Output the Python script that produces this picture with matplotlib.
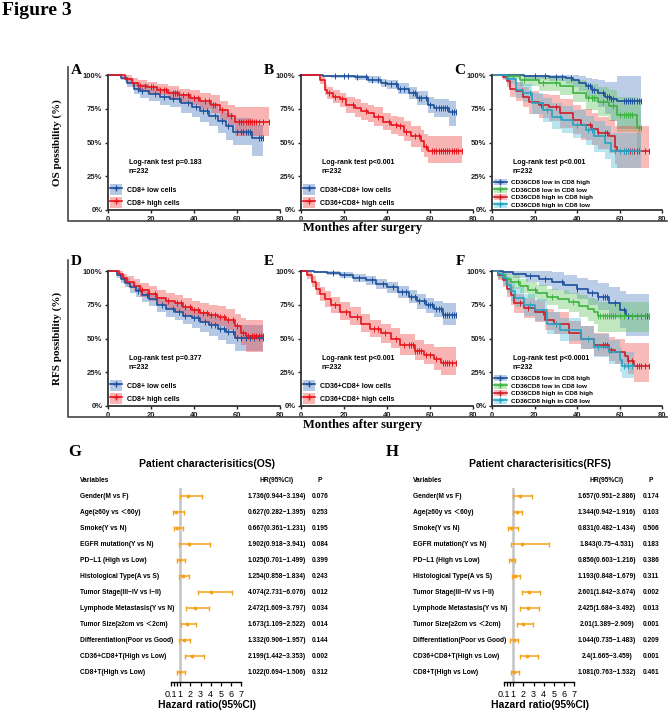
import numpy as np
import matplotlib
matplotlib.use('Agg')
import matplotlib.pyplot as plt
from matplotlib.patches import Patch
from matplotlib.lines import Line2D

plt.rcParams['font.family'] = ['Liberation Sans', 'Noto Sans CJK SC', 'DejaVu Sans']

# ---------------- KM data ----------------
# A: OS, CD8+
A_low_t = [0, 6, 9, 12, 15, 19, 24, 29, 34, 39, 43, 47, 51, 55, 58, 67, 72]
A_low_s = [1.00, .98, .94, .90, .88, .86, .84, .82, .79, .76, .73, .70, .66, .62, .58, .53, .53]
A_low_lo = [1.00, .96, .91, .86, .83, .81, .78, .76, .72, .69, .65, .62, .57, .52, .48, .40, .40]
A_low_hi = [1.00, 1.00, .98, .95, .93, .91, .90, .88, .86, .84, .81, .79, .75, .72, .68, .63, .63]
A_low_c = [14, 16, 22, 26, 30, 33, 37, 41, 44, 46, 50, 53, 56, 60, 62, 63, 64, 65, 66, 70, 71, 72]
A_high_t = [0, 8, 11, 14, 18, 23, 28, 33, 38, 43, 48, 52, 56, 59, 75]
A_high_s = [1.00, .97, .94, .92, .91, .89, .87, .85, .83, .81, .78, .74, .70, .65, .65]
A_high_lo = [1.00, .95, .91, .88, .87, .85, .82, .80, .78, .75, .72, .67, .63, .55, .55]
A_high_hi = [1.00, 1.00, .98, .96, .95, .93, .92, .90, .89, .87, .85, .81, .78, .76, .76]
A_high_c = [15, 17, 20, 21, 24, 26, 27, 30, 31, 32, 35, 37, 40, 42, 45, 47, 49, 50, 53, 57,
            61, 62, 63, 64, 65, 66, 67, 68, 69, 70, 72, 75]

# B: OS, CD36+CD8+
B_low_t = [0, 10, 14, 25, 31, 37, 40, 45, 50, 54, 59, 62, 69, 72]
B_low_s = [1.00, .995, .99, .985, .965, .94, .93, .90, .87, .83, .78, .755, .725, .725]
B_low_lo = [1.00, .985, .975, .965, .94, .91, .895, .86, .82, .78, .72, .69, .62, .62]
B_low_hi = [1.00, 1.00, 1.00, 1.00, .99, .97, .965, .94, .91, .88, .84, .82, .81, .81]
B_low_c = [16, 20, 22, 26, 30, 33, 36, 39, 42, 44, 46, 48, 52, 53, 55, 56, 58, 60, 63, 64,
           65, 66, 67, 68, 70, 71, 72]
B_high_t = [0, 9, 11, 12, 15, 18, 21, 25, 28, 31, 34, 38, 42, 45, 48, 51, 56, 57, 59, 75]
B_high_s = [1.00, .96, .89, .87, .84, .82, .78, .755, .73, .72, .69, .655, .63, .62, .58, .545,
            .51, .47, .435, .435]
B_high_lo = [1.00, .93, .85, .82, .79, .76, .72, .69, .67, .65, .62, .59, .56, .55, .51, .47,
             .43, .39, .35, .35]
B_high_hi = [1.00, .99, .93, .91, .89, .87, .84, .82, .79, .78, .76, .72, .70, .69, .66, .62,
             .59, .56, .55, .55]
B_high_c = [13, 16, 19, 24, 30, 36, 41, 44, 46, 49, 53, 55, 58, 61, 62, 63, 64, 65, 66, 67,
            68, 69, 70, 71, 72, 73, 75]

# C: OS, four groups
C1_t = [0, 15, 27, 35, 38, 41, 44, 47, 50, 53, 56, 59, 70]
C1_s = [1.00, .99, .985, .975, .96, .94, .915, .89, .865, .84, .82, .81, .81]
C1_lo = [1.00, .97, .955, .935, .91, .88, .84, .80, .76, .71, .66, .60, .60]
C1_hi = [1.00, 1.00, 1.00, 1.00, 1.00, .995, .98, .97, .96, .95, .95, .99, .99]
C1_c = [20, 25, 30, 33, 37, 45, 46, 47, 48, 52, 54, 55, 56, 57, 62, 63, 64, 65, 66, 67, 68, 69, 70]
C2_t = [0, 5, 13, 22, 32, 38, 44, 50, 55, 59, 68, 70]
C2_s = [1.00, .99, .965, .94, .915, .87, .83, .80, .77, .705, .61, .61]
C2_lo = [1.00, .97, .92, .88, .85, .80, .74, .70, .66, .58, .45, .45]
C2_hi = [1.00, 1.00, 1.00, .99, .98, .96, .93, .91, .89, .84, .80, .80]
C2_c = [10, 15, 24, 30, 45, 47, 48, 52, 57, 60, 62, 63, 64, 65, 66, 69, 70]
C3_t = [0, 5, 7, 8.5, 11.5, 14.5, 17.5, 22, 27, 32, 38, 42, 47, 50, 55, 58, 59, 74]
C3_s = [1.00, .985, .955, .90, .88, .84, .80, .78, .76, .72, .67, .63, .60, .57, .545, .47, .435, .435]
C3_lo = [1.00, .96, .91, .84, .81, .76, .71, .68, .66, .61, .56, .52, .48, .45, .42, .34, .31, .31]
C3_hi = [1.00, 1.00, .995, .96, .95, .91, .88, .86, .85, .82, .78, .75, .72, .69, .67, .62, .62, .62]
C3_c = [14, 23, 24, 30, 46, 47, 50, 53, 54, 62, 63, 64, 65, 66, 67, 68, 69, 72, 74]
C4_t = [0, 7, 11.5, 14.5, 19, 24, 28, 33, 38, 44, 48, 53, 56, 70]
C4_s = [1.00, .97, .89, .87, .79, .74, .69, .67, .63, .59, .545, .495, .435, .435]
C4_lo = [1.00, .93, .83, .80, .71, .65, .60, .57, .53, .48, .43, .38, .31, .31]
C4_hi = [1.00, 1.00, .95, .93, .87, .83, .79, .77, .74, .70, .66, .62, .57, .57]
C4_c = [18, 26, 32, 40, 45, 47, 58, 60, 62, 63, 64, 66]

# D: RFS, CD8+
D_low_t = [0, 4, 6, 8, 10, 13, 16, 19, 23, 27, 31, 35, 39, 43, 47, 51, 55, 59, 72]
D_low_s = [1.00, .97, .94, .91, .88, .85, .82, .79, .75, .72, .70, .67, .65, .62, .60, .57, .55, .505, .505]
D_low_lo = [1.00, .95, .91, .88, .84, .81, .77, .74, .70, .66, .64, .61, .58, .55, .52, .49, .46, .41, .41]
D_low_hi = [1.00, 1.00, .97, .95, .92, .90, .87, .84, .81, .78, .76, .74, .72, .70, .68, .65, .63, .60, .60]
D_low_c = [14, 18, 25, 30, 33, 36, 40, 42, 45, 48, 50, 52, 54, 56, 58, 60, 62, 64, 66, 68, 70, 72]
D_high_t = [0, 5, 7, 9, 12, 15, 19, 23, 27, 31, 35, 39, 43, 47, 51, 55, 59, 62, 64, 72]
D_high_s = [1.00, .98, .95, .92, .89, .86, .83, .80, .78, .76, .73, .71, .69, .675, .66, .64, .59,
            .54, .515, .515]
D_high_lo = [1.00, .96, .92, .88, .85, .81, .78, .75, .72, .70, .67, .65, .62, .60, .59, .56, .50,
             .45, .40, .40]
D_high_hi = [1.00, 1.00, .98, .96, .94, .91, .89, .86, .84, .82, .80, .78, .76, .75, .74, .72, .68,
             .65, .64, .64]
D_high_c = [16, 19, 22, 28, 32, 34, 36, 38, 40, 42, 44, 46, 48, 50, 52, 54, 56, 58, 60, 63, 65,
            67, 68, 69, 70, 71, 72]

# E: RFS, CD36+CD8+
E_low_t = [0, 6, 12, 18, 24, 30, 35, 40, 45, 50, 54, 58, 62, 66, 72]
E_low_s = [1.00, .995, .985, .97, .95, .93, .905, .88, .845, .81, .775, .745, .72, .675, .675]
E_low_lo = [1.00, .985, .97, .95, .92, .90, .87, .84, .80, .76, .72, .69, .66, .60, .60]
E_low_hi = [1.00, 1.00, 1.00, .99, .98, .96, .94, .92, .89, .86, .83, .80, .78, .76, .76]
E_low_c = [15, 20, 27, 33, 38, 43, 47, 49, 51, 53, 55, 57, 59, 60, 61, 63, 64, 65, 66, 67, 68,
           69, 70, 71, 72]
E_high_t = [0, 3, 5, 7, 9, 11, 14, 18, 23, 28, 32, 37, 42, 46, 53, 57, 62, 65, 72]
E_high_s = [1.00, .97, .92, .87, .83, .79, .75, .70, .66, .61, .57, .54, .50, .45, .41, .38, .345,
            .315, .315]
E_high_lo = [1.00, .94, .88, .82, .78, .73, .69, .64, .60, .55, .51, .47, .43, .38, .34, .31, .27,
             .23, .23]
E_high_hi = [1.00, 1.00, .96, .92, .88, .85, .81, .77, .73, .68, .64, .61, .58, .53, .49, .46, .44,
             .44, .44]
E_high_c = [16, 21, 26, 34, 36, 39, 44, 48, 50, 51, 52, 53, 54, 55, 56, 58, 60, 63, 66, 67, 68,
            69, 70, 72]

# F: RFS, four groups
F1_t = [0, 5, 10, 16, 22, 28, 34, 40, 45, 50, 55, 60, 63, 74]
F1_s = [1.00, .99, .98, .96, .94, .92, .90, .87, .84, .81, .76, .71, .665, .665]
F1_lo = [1.00, .97, .95, .92, .89, .86, .83, .79, .75, .71, .65, .58, .52, .52]
F1_hi = [1.00, 1.00, 1.00, 1.00, 1.00, .99, .97, .95, .93, .91, .88, .85, .83, .83]
F1_c = [18, 25, 33, 40, 47, 50, 52, 53, 54, 58, 62, 64, 66, 68, 70, 72, 73, 74]
F2_t = [0, 3, 6, 9, 13, 17, 21, 26, 31, 36, 41, 45, 48, 50, 74]
F2_s = [1.00, .97, .94, .92, .89, .86, .84, .81, .79, .77, .74, .72, .70, .665, .665]
F2_lo = [1.00, .94, .90, .87, .84, .80, .78, .75, .72, .70, .66, .63, .61, .55, .55]
F2_hi = [1.00, 1.00, .98, .97, .94, .92, .90, .87, .86, .84, .82, .80, .79, .77, .77]
F2_c = [12, 20, 28, 38, 50, 51, 52, 53, 54, 55, 56, 57, 58, 60, 62, 66, 68, 70, 72, 74]
F3_t = [0, 3, 5, 7, 9, 10.5, 15, 20, 25, 29, 36, 42, 48, 55, 58, 62.5, 64, 67, 74]
F3_s = [1.00, .97, .93, .87, .82, .76, .725, .70, .64, .61, .54, .50, .45, .415, .40, .37, .33, .30, .30]
F3_lo = [1.00, .93, .88, .81, .75, .69, .65, .62, .56, .53, .46, .42, .37, .33, .31, .28, .24, .18, .18]
F3_hi = [1.00, 1.00, .98, .93, .89, .83, .80, .78, .72, .70, .63, .59, .54, .51, .50, .47, .47, .47, .47]
F3_c = [13, 17, 24, 30, 52, 53, 54, 55, 56, 64, 66, 68, 69, 70, 72, 74]
F4_t = [0, 3, 5, 7, 9, 11, 15, 20, 26, 32, 42, 48, 55, 60, 61, 67]
F4_s = [1.00, .98, .95, .90, .85, .80, .75, .71, .61, .56, .50, .44, .40, .34, .30, .30]
F4_lo = [1.00, .95, .90, .84, .78, .73, .67, .63, .53, .48, .42, .36, .31, .25, .21, .21]
F4_hi = [1.00, 1.00, 1.00, .96, .92, .88, .83, .79, .70, .65, .59, .53, .49, .44, .40, .40]
F4_c = [18, 30, 45, 50, 62, 64, 66]

labels_cd8 = ['CD8+ low cells', 'CD8+ high cells']
labels_cd36 = ['CD36+CD8+ low cells', 'CD36+CD8+ high cells']
labels_grp = ['CD36CD8 low in CD8 high', 'CD36CD8 low in CD8 low',
              'CD36CD8 high in CD8 high', 'CD36CD8 high in CD8 low']

# ---------------- Forest data ----------------
variables = ['Gender(M vs F)', 'Age(≥60y vs ＜60y)', 'Smoke(Y vs N)', 'EGFR mutation(Y vs N)',
             'PD−L1 (High vs Low)', 'Histological Type(A vs S)', 'Tumor Stage(III−IV vs I−II)',
             'Lymphode Metastasis(Y vs N)', 'Tumor Size(≥2cm vs ＜2cm)',
             'Differentiation(Poor vs Good)', 'CD36+CD8+T(High vs Low)', 'CD8+T(High vs Low)']
G_hr = [1.736, 0.627, 0.667, 1.902, 1.025, 1.254, 4.074, 2.472, 1.673, 1.332, 2.199, 1.022]
G_lo = [0.944, 0.282, 0.361, 0.918, 0.701, 0.858, 2.731, 1.609, 1.109, 0.906, 1.442, 0.694]
G_hi = [3.194, 1.395, 1.231, 3.941, 1.499, 1.834, 6.076, 3.797, 2.522, 1.957, 3.353, 1.506]
G_p = ['0.076', '0.253', '0.195', '0.084', '0.399', '0.243', '0.012', '0.034', '0.014', '0.144',
       '0.002', '0.312']
H_hr = [1.657, 1.344, 0.831, 1.843, 0.856, 1.193, 2.601, 2.425, 2.01, 1.044, 2.4, 1.081]
H_lo = [0.951, 0.942, 0.482, 0.75, 0.603, 0.848, 1.842, 1.684, 1.389, 0.735, 1.665, 0.763]
H_hi = [2.886, 1.916, 1.434, 4.531, 1.216, 1.679, 3.674, 3.492, 2.909, 1.483, 3.459, 1.532]
H_p = ['0.174', '0.103', '0.506', '0.183', '0.386', '0.311', '0.002', '0.013', '0.001', '0.209',
       '0.001', '0.461']

W, H = 669, 712
fig = plt.figure(figsize=(W / 100, H / 100), dpi=100)

def fx(px):
    return px / W

def fy(py):
    return 1 - py / H

def ax_at(x0, y0, x1, y1):
    return fig.add_axes([fx(x0), fy(y1), (x1 - x0) / W, (y1 - y0) / H])

SERIF = 'Liberation Serif'
BLUE, RED = '#1d4f9a', '#e8141c'
BLUE_B, RED_B = '#4f7fc0', '#f04a4a'
GREEN, DRED, CYAN = '#3cb43f', '#cc1f2a', '#27a3c2'
GREEN_B, CYAN_B = '#5cc25a', '#45bcd8'


def km(ax, t, s, lo, hi, cens, col, band, alpha=0.42):
    t = np.array(t, float)
    s = np.array(s, float)
    ax.fill_between(t, lo, hi, step='post', color=band, alpha=alpha, lw=0)
    ax.step(t, s, where='post', color=col, lw=1.2, clip_on=False)
    idx = np.searchsorted(t, cens, side='right') - 1
    ax.plot(cens, s[idx], ls='none', marker='|', ms=4, mew=0.7, color=col, clip_on=False)
    return (Patch(facecolor=band, alpha=alpha, lw=0),
            Line2D([], [], color=col, lw=1.2, marker='+', ms=4.5, mew=1.0))


def km_axes(ax, text):
    for sp in ['top', 'right']:
        ax.spines[sp].set_visible(False)
    for sp in ['left', 'bottom']:
        ax.spines[sp].set_linewidth(1.3)
        ax.spines[sp].set_color('#333333')
    ax.set_xlim(0, 80)
    ax.set_ylim(0, 1)
    ax.set_xticks([0, 20, 40, 60, 80])
    ax.set_yticks([0, .25, .5, .75, 1])
    ax.set_yticklabels(['0%', '25%', '50%', '75%', '100%'])
    ax.tick_params(length=2.5, width=1, pad=1.5, labelsize=5.5, colors='#222222')
    for lab in ax.get_xticklabels() + ax.get_yticklabels():
        lab.set_fontweight('bold')
    ax.text(0.122, 0.375, text, transform=ax.transAxes, fontsize=5, fontweight='bold',
            va='top', ha='left', linespacing=1.35)


cols = [(108, 280), (301, 473), (492, 662)]
rows = [(75, 210), (271, 406)]

# row 1 / row 2 two-group panels
two_group = [
    (0, 0, [(A_low_t, A_low_s, A_low_lo, A_low_hi, A_low_c), (A_high_t, A_high_s, A_high_lo, A_high_hi, A_high_c)],
     labels_cd8, 'Log-rank test p=0.183\nn=232'),
    (0, 1, [(B_low_t, B_low_s, B_low_lo, B_low_hi, B_low_c), (B_high_t, B_high_s, B_high_lo, B_high_hi, B_high_c)],
     labels_cd36, 'Log-rank test p<0.001\nn=232'),
    (1, 0, [(D_low_t, D_low_s, D_low_lo, D_low_hi, D_low_c), (D_high_t, D_high_s, D_high_lo, D_high_hi, D_high_c)],
     labels_cd8, 'Log-rank test p=0.377\nn=232'),
    (1, 1, [(E_low_t, E_low_s, E_low_lo, E_low_hi, E_low_c), (E_high_t, E_high_s, E_high_lo, E_high_hi, E_high_c)],
     labels_cd36, 'Log-rank test p<0.001\nn=232'),
]
for r, c, curves, labs, txt in two_group:
    ax = ax_at(cols[c][0], rows[r][0], cols[c][1], rows[r][1])
    hs = []
    for (t, s, lo, hi, cc), col, band in zip(curves, [BLUE, RED], [BLUE_B, RED_B]):
        hs.append(km(ax, t, s, lo, hi, cc, col, band))
    km_axes(ax, txt)
    ax.legend(hs, labs, loc='lower left', bbox_to_anchor=(0.012, 0.012), frameon=False,
              prop={'size': 5, 'weight': 'bold'}, handlelength=1.75, handleheight=2.1,
              labelspacing=0.3, handletextpad=0.7, borderpad=0, borderaxespad=0)

four_group = [
    (0, [(C1_t, C1_s, C1_lo, C1_hi, C1_c), (C2_t, C2_s, C2_lo, C2_hi, C2_c),
         (C3_t, C3_s, C3_lo, C3_hi, C3_c), (C4_t, C4_s, C4_lo, C4_hi, C4_c)],
     'Log-rank test p<0.001\nn=232'),
    (1, [(F1_t, F1_s, F1_lo, F1_hi, F1_c), (F2_t, F2_s, F2_lo, F2_hi, F2_c),
         (F3_t, F3_s, F3_lo, F3_hi, F3_c), (F4_t, F4_s, F4_lo, F4_hi, F4_c)],
     'Log-rank test p<0.0001\nn=232'),
]
for r, curves, txt in four_group:
    ax = ax_at(cols[2][0], rows[r][0], cols[2][1], rows[r][1])
    hs = []
    for (t, s, lo, hi, cc), col, band in zip(curves, [BLUE, GREEN, DRED, CYAN],
                                             [BLUE_B, GREEN_B, RED_B, CYAN_B]):
        hs.append(km(ax, t, s, lo, hi, cc, col, band, alpha=0.38))
    km_axes(ax, txt)
    ax.legend(hs, labels_grp, loc='lower left', bbox_to_anchor=(0.012, 0.015), frameon=False,
              prop={'size': 4.6, 'weight': 'bold'}, handlelength=2.0, handleheight=1.1,
              labelspacing=0.2, handletextpad=0.6, borderpad=0, borderaxespad=0)

# frames, labels
for top, bot in [(67, 221), (260, 417)]:
    fig.add_artist(Line2D([fx(68), fx(68), fx(667)], [fy(top), fy(bot), fy(bot)],
                          color='#444444', lw=1.2))
fig.text(fx(2), fy(2), 'Figure 3', family=SERIF, fontweight='bold', fontsize=14, va='top')
for lab, x, y in [('A', 76, 70), ('B', 269, 70), ('C', 460, 70),
                  ('D', 76, 262), ('E', 269, 262), ('F', 460, 262)]:
    fig.text(fx(x), fy(y), lab, family=SERIF, fontweight='bold', fontsize=11, ha='center', va='center')
fig.text(fx(57), fy(143), 'OS possibility (%)', family=SERIF, fontweight='bold', fontsize=8,
         rotation=90, ha='center', va='center')
fig.text(fx(57), fy(338), 'RFS possibility (%)', family=SERIF, fontweight='bold', fontsize=8,
         rotation=90, ha='center', va='center')
for y in [228, 425]:
    fig.text(fx(363), fy(y), 'Monthes after surgery', family=SERIF, fontweight='bold',
             fontsize=9, ha='center', va='center')

# ---------------- forest plots ----------------
ORANGE = '#f5a21c'


def forest(x_var, x_zero, x_hr, x_p, x_mid, hr, lo, hi, pv, title, letter, x_let):
    hr = np.array(hr)
    lo = np.array(lo)
    hi = np.array(hi)
    ax = ax_at(x_zero, 488, x_zero + 71.2, 682)
    ax.set_xlim(0, 7)
    ax.set_ylim(11.625, -0.5)
    ax.axvline(1, color='#c4c4c4', lw=1.8, zorder=0)
    y = np.arange(len(hr))
    ax.errorbar(hr, y, xerr=[hr - lo, hi - hr], fmt='o', ms=1.8, color=ORANGE, ecolor=ORANGE,
                elinewidth=1.1, capsize=1.8, capthick=1.0)
    for sp in ['top', 'right', 'left']:
        ax.spines[sp].set_visible(False)
    ax.spines['bottom'].set_bounds(0.1, 7)
    ax.spines['bottom'].set_linewidth(1.0)
    ax.set_yticks([])
    ax.set_xticks([0.1, 0.4, 0.7, 1, 2, 3, 4, 5, 6, 7])
    ax.set_xticklabels(['0.1', '', '', '1', '2', '3', '4', '5', '6', '7'])
    ax.tick_params(axis='x', length=3, width=0.9, pad=3, labelsize=6.5)
    fig.text(fx(x_mid), fy(705), 'Hazard ratio(95%CI)', fontsize=7.5, fontweight='bold',
             ha='center', va='center')
    fig.text(fx(x_mid), fy(464), title, fontsize=7.5, fontweight='bold', ha='center', va='center')
    fig.text(fx(x_let), fy(452), letter, family=SERIF, fontweight='bold', fontsize=12,
             ha='center', va='center')
    fig.text(fx(x_var), fy(480), 'Variables', fontsize=4.8, fontweight='bold', va='center')
    fig.text(fx(x_hr), fy(480), 'HR(95%CI)', fontsize=4.8, fontweight='bold', va='center', ha='center')
    fig.text(fx(x_p), fy(480), 'P', fontsize=4.8, fontweight='bold', va='center', ha='center')
    for i in range(len(hr)):
        yy = 496 + 16 * i
        fig.text(fx(x_var), fy(yy), variables[i], fontsize=4.8, fontweight='bold', va='center')
        fig.text(fx(x_hr), fy(yy), f'{hr[i]}({lo[i]}−{hi[i]})', fontsize=4.8, fontweight='bold',
                 va='center', ha='center')
        fig.text(fx(x_p), fy(yy), pv[i], fontsize=4.8, fontweight='bold', va='center', ha='center')


forest(80, 170, 277, 320, 207, G_hr, G_lo, G_hi, G_p, 'Patient characterisitics(OS)', 'G', 75)
forest(413, 503, 607, 651, 540, H_hr, H_lo, H_hi, H_p, 'Patient characterisitics(RFS)', 'H', 392)

fig.savefig('out.png', dpi=100)
